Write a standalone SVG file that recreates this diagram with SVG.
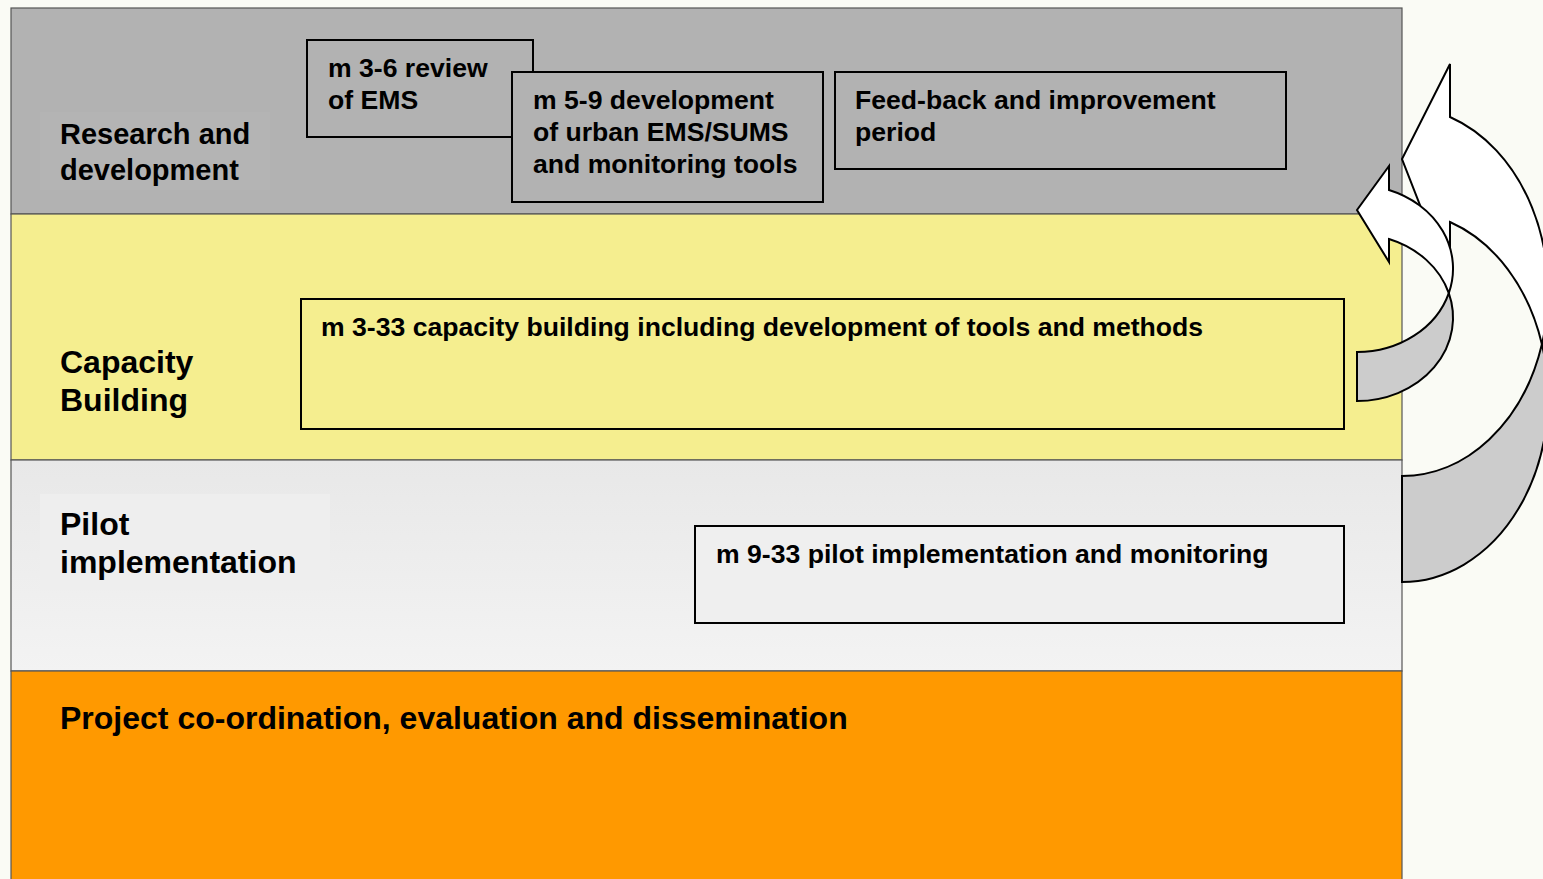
<svg xmlns="http://www.w3.org/2000/svg" width="1543" height="879" viewBox="0 0 1543 879">
  <defs>
    <linearGradient id="pilotGrad" x1="0" y1="0" x2="0" y2="1">
      <stop offset="0" stop-color="#E8E8E8"/>
      <stop offset="1" stop-color="#F3F3F3"/>
    </linearGradient>
    <style>
      .band { stroke: #555555; stroke-width: 1.2; }
      .box { stroke: #000000; stroke-width: 2; }
      .lbl { font-family: "Liberation Sans", Arial, sans-serif; font-weight: bold; fill: #000000; }
      .bt { font-size: 26.6px; }
      .big { font-size: 32px; }
      .arrow { stroke: #000000; stroke-width: 2; stroke-linejoin: miter; }
    </style>
  </defs>

  <rect x="0" y="0" width="1543" height="879" fill="#FAFBF5"/>

  <!-- Bands -->
  <g id="band-rd">
    <rect class="band" x="11" y="8" width="1391" height="206" fill="#B2B2B2"/>
    <rect x="40" y="112" width="230" height="78" fill="#B4B4B4"/>
    <text class="lbl" font-size="29" x="60" y="144">Research and</text>
    <text class="lbl" font-size="29" x="60" y="180">development</text>
  </g>
  <g id="band-cb">
    <rect class="band" x="11" y="214" width="1391" height="246" fill="#F5EE8F"/>
    <text class="lbl big" x="60" y="373">Capacity</text>
    <text class="lbl big" x="60" y="411">Building</text>
  </g>
  <g id="band-pilot">
    <rect class="band" x="11" y="460" width="1391" height="211" fill="url(#pilotGrad)"/>
    <rect x="40" y="494" width="290" height="96" fill="#EEEEEE"/>
    <text class="lbl big" x="60" y="535">Pilot</text>
    <text class="lbl big" x="60" y="573">implementation</text>
  </g>
  <g id="band-coord">
    <rect class="band" x="11" y="671" width="1391" height="220" fill="#FF9900"/>
    <text class="lbl big" x="60" y="729">Project co-ordination, evaluation and dissemination</text>
  </g>

  <!-- Task boxes -->
  <g id="box-review">
    <rect class="box" x="307" y="40" width="226" height="97" fill="#B2B2B2"/>
    <text class="lbl bt" x="328" y="77">m 3-6 review</text>
    <text class="lbl bt" x="328" y="109">of EMS</text>
  </g>
  <g id="box-dev">
    <rect class="box" x="512" y="72" width="311" height="130" fill="#B2B2B2"/>
    <text class="lbl bt" x="533" y="109">m 5-9 development</text>
    <text class="lbl bt" x="533" y="141">of urban EMS/SUMS</text>
    <text class="lbl bt" x="533" y="173">and monitoring tools</text>
  </g>
  <g id="box-feedback">
    <rect class="box" x="835" y="72" width="451" height="97" fill="#B2B2B2"/>
    <text class="lbl bt" x="855" y="109">Feed-back and improvement</text>
    <text class="lbl bt" x="855" y="141">period</text>
  </g>
  <g id="box-capacity">
    <rect class="box" x="301" y="299" width="1043" height="130" fill="#F5EE8F"/>
    <text class="lbl bt" x="321" y="336">m 3-33 capacity building including development of tools and methods</text>
  </g>
  <g id="box-pilot">
    <rect class="box" x="695" y="526" width="649" height="97" fill="#EFEFEF"/>
    <text class="lbl bt" x="716" y="563">m 9-33 pilot implementation and monitoring</text>
  </g>

  <!-- Connectors: curved feedback arrows -->
  <g id="connectors">
    <g id="arrow-large">
      <path class="arrow" fill="#CCCCCC" d="M 1541.9,344.3 A 146 184.7 0 0 1 1402,582 L 1402,476 A 146 184.7 0 0 0 1541.9,344.3 Z"/>
      <path class="arrow" fill="#FFFFFF" d="M 1450,117 A 146 184.7 0 0 1 1541.9,344.3 A 146 184.7 0 0 0 1450,222 L 1450,282 L 1402,159 L 1450,64 Z"/>
    </g>
    <g id="arrow-small">
      <path class="arrow" fill="#CCCCCC" d="M 1448.8,293.1 A 96 83.4 0 0 1 1357,401 L 1357,352 A 96 83.4 0 0 0 1448.8,293.1 Z"/>
      <path class="arrow" fill="#FFFFFF" d="M 1389,190 A 96 83.4 0 0 1 1448.8,293.1 A 96 83.4 0 0 0 1389,239 L 1389,262 L 1357,210 L 1389,166 Z"/>
    </g>
  </g>
</svg>
